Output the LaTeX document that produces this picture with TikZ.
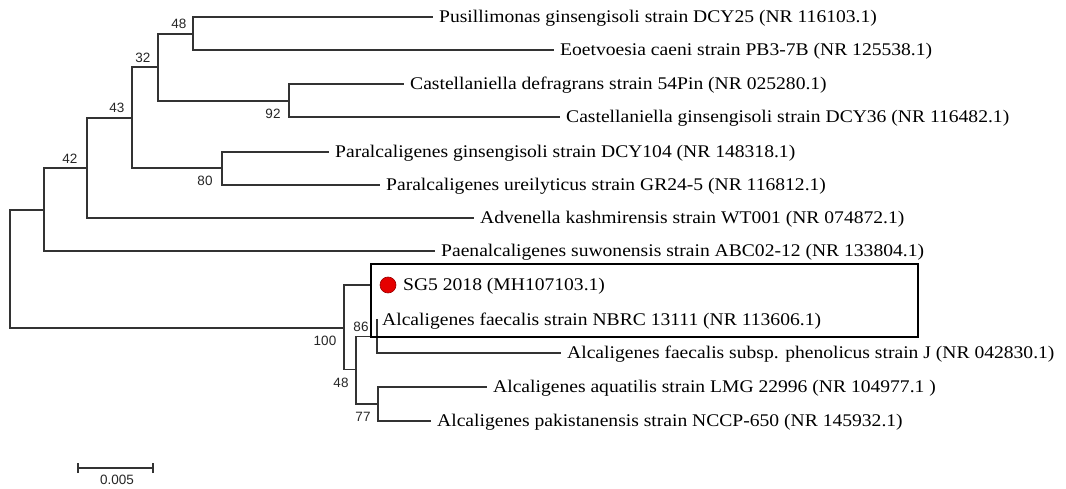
\documentclass[tikz,border=0pt]{standalone}
\usepackage{fontspec}
\setmainfont{Liberation Serif}
\newfontfamily\tipfont[FakeStretch=1.1]{Liberation Serif}
\newfontfamily\bsfont{Liberation Sans}
\begin{document}
\begin{tikzpicture}[x=1pt,y=-1pt,
  branch/.style={draw=black!80,line width=1.3pt},
  tip/.style={anchor=west,inner xsep=6pt,inner ysep=0pt,text height=14pt,text depth=3pt,font=\tipfont\fontsize{17.8}{20}\selectfont},
  boot/.style={inner sep=0pt,font=\bsfont\fontsize{13.5}{15}\selectfont,text=black!85},
  hl/.style={draw=black,line width=2pt}]
\useasboundingbox (0,0) rectangle (1066,489);
% internal nodes
\coordinate (root) at (10,269.5);
\coordinate (A) at (44,210);
\coordinate (B) at (87,168);
\coordinate (C) at (132,118);
\coordinate (D) at (158,67);
\coordinate (E) at (193,34);
\coordinate (F) at (289,101);
\coordinate (G) at (222,168);
\coordinate (H) at (344,328);
\coordinate (I) at (356,369.5);
\coordinate (J) at (377,336.5);
\coordinate (K) at (378,404);
% tips
\node[tip] (t1) at (433,17) {Pusillimonas ginsengisoli strain DCY25 (NR 116103.1)};
\node[tip] (t2) at (554,50) {Eoetvoesia caeni strain PB3-7B (NR 125538.1)};
\node[tip] (t3) at (404,84) {Castellaniella defragrans strain 54Pin (NR 025280.1)};
\node[tip] (t4) at (560,117) {Castellaniella ginsengisoli strain DCY36 (NR 116482.1)};
\node[tip] (t5) at (329,152) {Paralcaligenes ginsengisoli strain DCY104 (NR 148318.1)};
\node[tip] (t6) at (380,185) {Paralcaligenes ureilyticus strain GR24-5 (NR 116812.1)};
\node[tip] (t7) at (474,218) {Advenella kashmirensis strain WT001 (NR 074872.1)};
\node[tip] (t8) at (435,251) {Paenalcaligenes suwonensis strain ABC02-12 (NR 133804.1)};
\node[circle,fill=red!90!black,draw=red!60!black,line width=0.6pt,minimum size=16pt,inner sep=0pt] (dot) at (388,285) {};
\node[tip] (t9) at (397,285) {SG5 2018 (MH107103.1)};
\node[tip] (t10) at (376,320) {Alcaligenes faecalis strain NBRC 13111 (NR 113606.1)};
\node[tip] (t11) at (561,353) {Alcaligenes faecalis subsp. phenolicus strain J (NR 042830.1)};
\node[tip] (t12) at (487,387) {Alcaligenes aquatilis strain LMG 22996 (NR 104977.1 )};
\node[tip] (t13) at (431,421) {Alcaligenes pakistanensis strain NCCP-650 (NR 145932.1)};
% branches
\path[branch] (root) |- (A);
\path[branch] (root) |- (H);
\path[branch] (A) |- (B);
\path[branch] (A) |- (t8.west);
\path[branch] (B) |- (C);
\path[branch] (B) |- (t7.west);
\path[branch] (C) |- (D);
\path[branch] (C) |- (G);
\path[branch] (D) |- (E);
\path[branch] (D) |- (F);
\path[branch] (E) |- (t1.west);
\path[branch] (E) |- (t2.west);
\path[branch] (F) |- (t3.west);
\path[branch] (F) |- (t4.west);
\path[branch] (G) |- (t5.west);
\path[branch] (G) |- (t6.west);
\path[branch,shorten >=9pt] (H) |- (dot.west);
\path[branch] (H) |- (I);
\path[branch] (I) |- (J);
\path[branch] (I) |- (K);
\path[branch] (J) |- (t10.west);
\path[branch] (J) |- (t11.west);
\path[branch] (K) |- (t12.west);
\path[branch] (K) |- (t13.west);
% bootstrap values
\node[boot] (b1) at (179,24) {48};
\node[boot] (b2) at (143,58) {32};
\node[boot] (b3) at (117,108) {43};
\node[boot] (b4) at (273,114) {92};
\node[boot] (b5) at (70,159) {42};
\node[boot] (b6) at (205,181) {80};
\node[boot] (b7) at (361,327) {86};
\node[boot] (b8) at (325,341) {100};
\node[boot] (b9) at (341,383) {48};
\node[boot] (b10) at (363,417) {77};
% highlight box
\node[hl,minimum width=547pt,minimum height=73pt,inner sep=0pt] (box) at (644.5,300.5) {};
% scale bar
\coordinate (s1) at (78,468);
\coordinate (s2) at (153,468);
\path[branch,line width=1.1pt] (s1) -- (s2);
\path[branch,line width=1.1pt] ([yshift=-5pt]s1) -- ([yshift=5pt]s1);
\path[branch,line width=1.1pt] ([yshift=-5pt]s2) -- ([yshift=5pt]s2);
\node[boot] (sl) at (117,480) {0.005};
\end{tikzpicture}
\end{document}
